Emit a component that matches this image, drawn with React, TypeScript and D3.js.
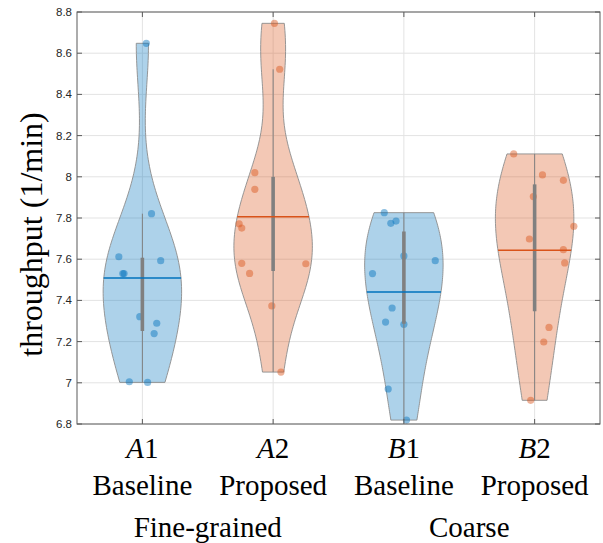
import React from "react";
import * as d3 from "d3";

const categories = [1, 2, 3, 4];
const groupNames = ["A", "A", "B", "B"];
const groupNums = ["1", "2", "1", "2"];
const methodLabels = ["Baseline", "Proposed", "Baseline", "Proposed"];
const groupLabels = ["Fine-grained", "Coarse"];
const colors = ["#0072BD", "#D95319", "#0072BD", "#D95319"];

const valuesA1 = [8.648, 7.821, 7.612, 7.593, 7.53, 7.53, 7.321, 7.289, 7.239, 7.005, 7.002];
const valuesA2 = [8.745, 8.522, 8.02, 7.939, 7.772, 7.751, 7.58, 7.578, 7.531, 7.373, 7.052];
const valuesB1 = [7.826, 7.774, 7.785, 7.616, 7.593, 7.53, 7.363, 7.295, 7.284, 6.97, 6.819];
const valuesB2 = [8.111, 8.009, 7.983, 7.904, 7.76, 7.698, 7.646, 7.582, 7.269, 7.198, 6.915];

const jitterA1 = [0.03, 0.07, -0.18, 0.14, -0.15, -0.14, -0.02, 0.11, 0.09, -0.1, 0.04];
const jitterA2 = [0.01, 0.05, -0.14, -0.14, -0.26, -0.24, -0.24, 0.25, -0.18, -0.01, 0.06];
const jitterB1 = [-0.15, -0.1, -0.06, 0.0, 0.24, -0.24, -0.09, -0.14, 0.0, -0.12, 0.02];
const jitterB2 = [-0.16, 0.06, 0.22, -0.01, 0.3, -0.04, 0.22, 0.23, 0.11, 0.07, -0.03];

const yTicks = [6.8, 7, 7.2, 7.4, 7.6, 7.8, 8, 8.2, 8.4, 8.6, 8.8];

const allValues = [valuesA1, valuesA2, valuesB1, valuesB2];
const allJitter = [jitterA1, jitterA2, jitterB1, jitterB2];

const W = 603;
const H = 543;
const left = 77;
const right = 600;
const top = 12;
const bottom = 424;

function quantileM(sorted: number[], p: number) {
  const n = sorted.length;
  const pos = p * n + 0.5;
  if (pos <= 1) return sorted[0];
  if (pos >= n) return sorted[n - 1];
  const i = Math.floor(pos);
  const f = pos - i;
  return sorted[i - 1] + f * (sorted[i] - sorted[i - 1]);
}

function kde(data: number[]) {
  const n = data.length;
  const med = d3.median(data)!;
  const mad = d3.median(data.map((v) => Math.abs(v - med)))!;
  const sig = mad / 0.6745;
  const bw = sig * Math.pow(4 / (3 * n), 0.2);
  const lo = d3.min(data)!;
  const hi = d3.max(data)!;
  const pts = d3.range(100).map((i) => lo + ((hi - lo) * i) / 99);
  const dens = pts.map((x) => {
    let s = 0;
    for (const v of data) {
      const u = (x - v) / bw;
      s += Math.exp(-0.5 * u * u);
    }
    return s / (n * bw * Math.sqrt(2 * Math.PI));
  });
  const mx = d3.max(dens)!;
  return pts.map((v, i) => ({ v, d: (dens[i] / mx) * 0.3 }));
}

export default function App() {
  const xs = d3.scaleLinear().domain([0.5, 4.5]).range([left, right]);
  const ys = d3.scaleLinear().domain([6.8, 8.8]).range([bottom, top]);
  const tickLen = 5;
  const axisColor = "#5a5a5a";

  return (
    <svg width={W} height={H} style={{ position: "absolute", left: 0, top: 0, background: "#fff" }}>
      <rect x={0} y={0} width={W} height={H} fill="#fff" />
      {/* grid */}
      {yTicks.map((t) => (
        <line key={"gy" + t} x1={left} x2={right} y1={ys(t)} y2={ys(t)} stroke="#e3e3e3" strokeWidth={1} />
      ))}
      {categories.map((c) => (
        <line key={"gx" + c} x1={xs(c)} x2={xs(c)} y1={top} y2={bottom} stroke="#e3e3e3" strokeWidth={1} />
      ))}
      {/* violins */}
      {allValues.map((vals, k) => {
        const pos = categories[k];
        const col = colors[k];
        const dens = kde(vals);
        const area = d3
          .area<{ v: number; d: number }>()
          .x0((p) => xs(pos - p.d))
          .x1((p) => xs(pos + p.d))
          .y((p) => ys(p.v));
        const sorted = [...vals].sort((a, b) => a - b);
        const q1 = quantileM(sorted, 0.25);
        const q3 = quantileM(sorted, 0.75);
        const iqr = q3 - q1;
        const upW = d3.max(sorted.filter((v) => v <= q3 + 1.5 * iqr))!;
        const loW = d3.min(sorted.filter((v) => v >= q1 - 1.5 * iqr))!;
        const mean = d3.mean(vals)!;
        const meanHalf = dens.reduce((best, p) => (Math.abs(p.v - mean) < Math.abs(best.v - mean) ? p : best)).d;
        return (
          <g key={"v" + k}>
            <path d={area(dens)! + "Z"} fill={col} fillOpacity={0.32} stroke="#8c8c8c" strokeWidth={0.9} />
            {vals.map((v, i) => (
              <circle key={i} cx={xs(pos + allJitter[k][i])} cy={ys(v)} r={3.6} fill={col} fillOpacity={0.45} />
            ))}
            <line x1={xs(pos)} x2={xs(pos)} y1={ys(upW)} y2={ys(loW)} stroke="#808080" strokeWidth={1} />
            <line x1={xs(pos)} x2={xs(pos)} y1={ys(q3)} y2={ys(q1)} stroke="#808080" strokeWidth={3.6} />
            <line
              x1={xs(pos - meanHalf)}
              x2={xs(pos + meanHalf)}
              y1={ys(mean)}
              y2={ys(mean)}
              stroke={col}
              strokeWidth={1.5}
            />
          </g>
        );
      })}
      {/* axes box */}
      <rect x={left} y={top} width={right - left} height={bottom - top} fill="none" stroke={axisColor} strokeWidth={1} />
      {yTicks.map((t) => (
        <g key={"ty" + t}>
          <line x1={left} x2={left + tickLen} y1={ys(t)} y2={ys(t)} stroke={axisColor} />
          <line x1={right} x2={right - tickLen} y1={ys(t)} y2={ys(t)} stroke={axisColor} />
          <text
            x={left - 5}
            y={ys(t)}
            dy="0.35em"
            textAnchor="end"
            fontFamily="'Liberation Sans', Arial, sans-serif"
            fontSize={11.5}
            fill="#262626"
          >
            {d3.format("~g")(t)}
          </text>
        </g>
      ))}
      {categories.map((c, i) => (
        <g key={"tx" + c}>
          <line x1={xs(c)} x2={xs(c)} y1={bottom} y2={bottom - tickLen} stroke={axisColor} />
          <line x1={xs(c)} x2={xs(c)} y1={top} y2={top + tickLen} stroke={axisColor} />
          <text x={xs(c)} y={458} textAnchor="middle" fontFamily="'Liberation Serif', serif" fontSize={29} fill="#000">
            <tspan fontStyle="italic">{groupNames[i]}</tspan>
            <tspan>{groupNums[i]}</tspan>
          </text>
          <text x={xs(c)} y={495} textAnchor="middle" fontFamily="'Liberation Serif', serif" fontSize={29} fill="#000">
            {methodLabels[i]}
          </text>
        </g>
      ))}
      {groupLabels.map((g, i) => (
        <text
          key={g}
          x={(xs(categories[2 * i]) + xs(categories[2 * i + 1])) / 2}
          y={537}
          textAnchor="middle"
          fontFamily="'Liberation Serif', serif"
          fontSize={29}
          fill="#000"
        >
          {g}
        </text>
      ))}
      <text
        transform={`translate(42,234.5) rotate(-90)`}
        textAnchor="middle"
        fontFamily="'Liberation Serif', serif"
        fontSize={32}
        fill="#000"
      >
        throughput (1/min)
      </text>
    </svg>
  );
}
